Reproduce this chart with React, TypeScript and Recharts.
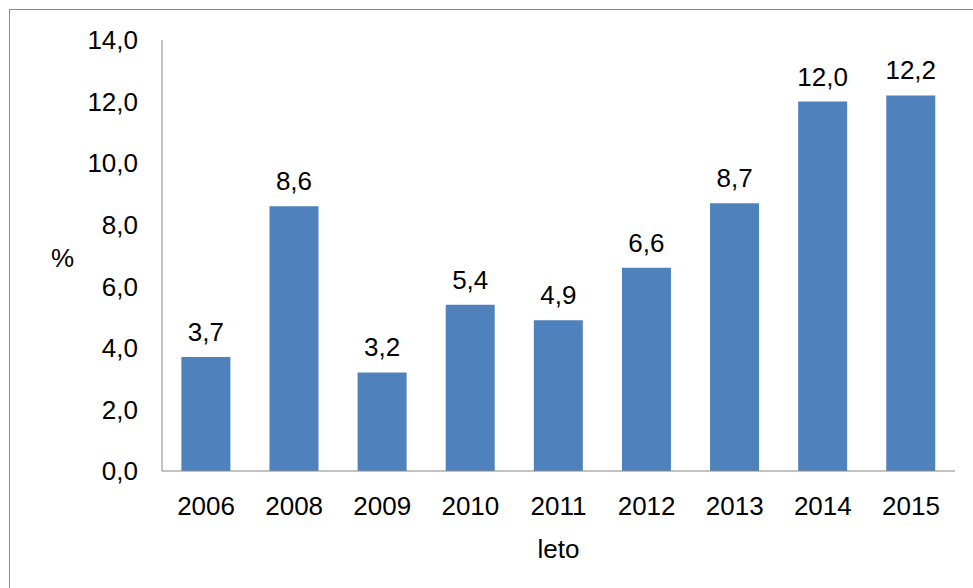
import React from "react";
import { BarChart, Bar, XAxis, YAxis, LabelList } from "recharts";

const years = ["2006", "2008", "2009", "2010", "2011", "2012", "2013", "2014", "2015"];
const values = [3.7, 8.6, 3.2, 5.4, 4.9, 6.6, 8.7, 12.0, 12.2];
const yTicks = [0, 2, 4, 6, 8, 10, 12, 14];

const data = years.map((year, i) => ({ year, value: values[i] }));

const fmt = (v: any) => Number(v).toFixed(1).replace(".", ",");
const font = "Liberation Sans, Arial, sans-serif";

export default function App() {
  return (
    <div style={{ position: "absolute", left: 0, top: 0, width: 973, height: 588, overflow: "hidden", background: "#fff" }}>
      <div
        style={{
          position: "absolute",
          left: 9,
          top: 9,
          width: 1000,
          height: 700,
          border: "1px solid #8c8c8c",
        }}
      />
      <div style={{ position: "absolute", left: 0, top: 0 }}>
        <BarChart
          width={973}
          height={588}
          data={data}
          margin={{ top: 40, right: 18, bottom: 0, left: 0 }}
          barCategoryGap="22%"
          style={{ fontFamily: font }}
        >
          <XAxis
            dataKey="year"
            height={117}
            tickLine={false}
            axisLine={{ stroke: "#868686" }}
            tick={{ fill: "#000", fontSize: 26 }}
            tickMargin={20}
            label={{ value: "leto", position: "insideBottom", offset: 30, fill: "#000", fontSize: 26 }}
          />
          <YAxis
            width={162}
            domain={[0, 14]}
            ticks={yTicks}
            interval={0}
            tickFormatter={fmt}
            tickLine={false}
            axisLine={{ stroke: "#868686" }}
            tick={{ fill: "#000", fontSize: 26 }}
            tickMargin={18}
            label={{ value: "%", position: "insideLeft", offset: 51, dy: 2, fill: "#000", fontSize: 26 }}
          />
          <Bar dataKey="value" fill="#4F81BD" isAnimationActive={false}>
            <LabelList dataKey="value" position="top" offset={16} formatter={fmt} fill="#000" fontSize={26} />
          </Bar>
        </BarChart>
      </div>
    </div>
  );
}
